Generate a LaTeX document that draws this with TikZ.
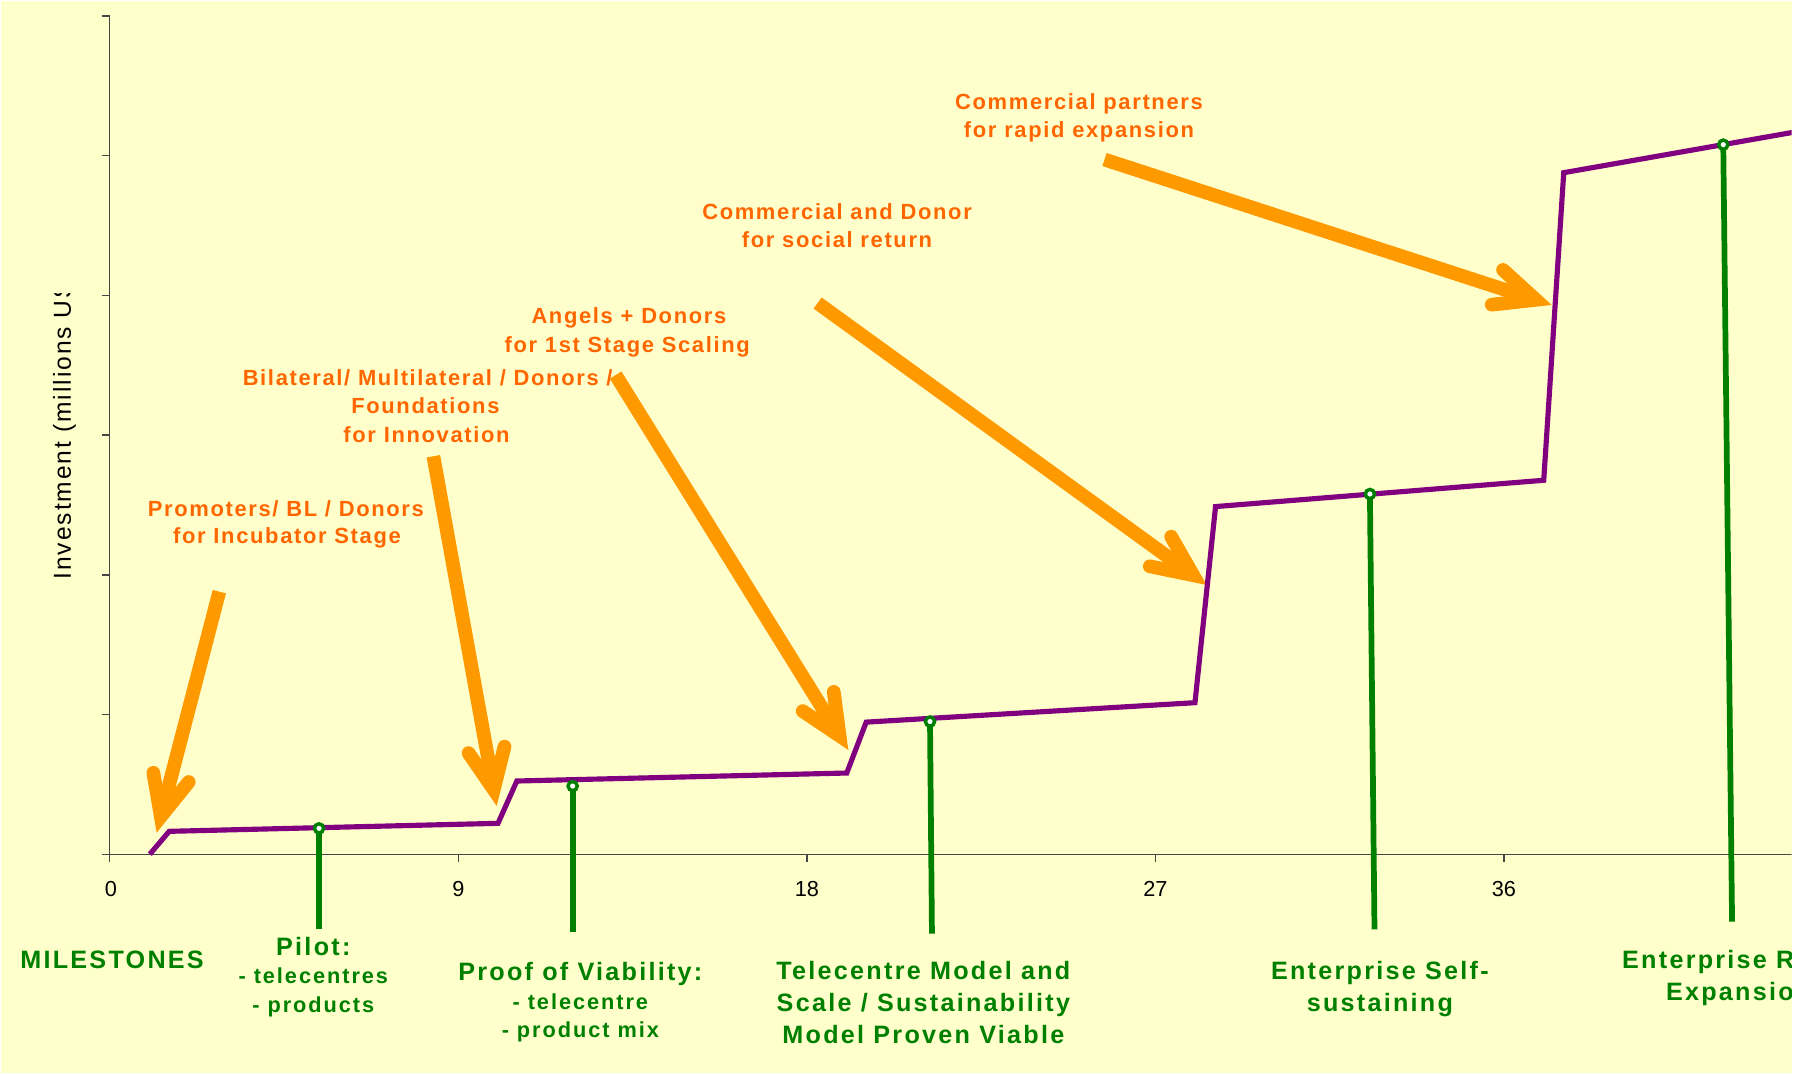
\documentclass[tikz,border=0pt]{standalone}
\usepackage{fontspec}
\setmainfont{Liberation Sans}
\newfontfamily\orfont[LetterSpace=7.5]{Liberation Sans}
\newfontfamily\grfont[LetterSpace=9]{Liberation Sans}
\newfontfamily\ylfont[LetterSpace=8]{Liberation Sans}
\usetikzlibrary{calc}
\definecolor{bgyellow}{RGB}{255,255,204}
\definecolor{arroworange}{RGB}{255,153,0}
\definecolor{textorange}{RGB}{255,102,0}
\definecolor{curvepurple}{RGB}{128,0,128}
\definecolor{milegreen}{RGB}{0,128,0}
\definecolor{axisgray}{RGB}{70,70,70}
\newcommand\orarrow[2]{%
  \draw[orshaft] (#1) -- ($(#2)!24pt!(#1)$);
  \coordinate (#2J) at ($(#2)!14.6pt!(#1)$);
  \draw[orhead] ($(#2J)!38.8pt!24.3:(#1)$) -- (#2J) -- ($(#2J)!38.8pt!-24.3:(#1)$);
}
\begin{document}
\begin{tikzpicture}[x=1pt,y=-1pt,
  axisline/.style={draw=axisgray, line width=1.2pt},
  curveline/.style={draw=curvepurple, line width=4.5pt, line join=miter},
  mileline/.style={draw=milegreen, line width=5pt},
  milemark/.style={draw=milegreen, line width=3pt, fill=white},
  orshaft/.style={draw=arroworange, line width=12pt, line cap=butt},
  orhead/.style={draw=arroworange, line width=12pt, line cap=round, line join=miter},
  ortext/.style={text=textorange, font=\orfont\bfseries\fontsize{19.2}{22}\selectfont, anchor=base, inner sep=0pt},
  grbig/.style={text=milegreen, font=\grfont\bfseries\fontsize{22}{25}\selectfont, anchor=base, inner sep=0pt},
  grsmall/.style={text=milegreen, font=\grfont\bfseries\fontsize{19}{22}\selectfont, anchor=base, inner sep=0pt},
  ticklabel/.style={font=\fontsize{19}{22}\selectfont, anchor=base, inner sep=0pt},
  ylabel/.style={font=\ylfont\fontsize{21.5}{24}\selectfont, inner sep=0pt},
]
\useasboundingbox (0,0) rectangle (1568,940);
\fill[white] (0,0) rectangle (1568,940);
\fill[bgyellow] (1.3,1.3) rectangle (1566.7,938.7);

\begin{scope}
\clip (0,0) rectangle (1566.7,940);

% axes
\draw[axisline] (96,14) -- (96,754);
\draw[axisline] (89,747) -- (1568,747);
\foreach \yy in {14,136.2,258.3,380.5,502.7,624.8} \draw[axisline] (89,\yy) -- (96,\yy);
\foreach \xx in {400.8,705.6,1010.4,1315.2} \draw[axisline] (\xx,747) -- (\xx,754);

\node[ticklabel] (t0) at (97,784) {0};
\node[ticklabel] (t9) at (400.8,784) {9};
\node[ticklabel] (t18) at (705.6,784) {18};
\node[ticklabel] (t27) at (1010.4,784) {27};
\node[ticklabel] (t36) at (1315.2,784) {36};

\begin{scope}
\clip (0,257) rectangle (96,940);
\node[ylabel, rotate=90, anchor=base west] (ylab) at (62,507) {Investment (millions US\$)};
\end{scope}

% arrows
\coordinate (a1) at (191.8,517.4); \coordinate (t1) at (137,728.2);
\coordinate (a2) at (379,399);     \coordinate (t2) at (434.4,704.9);
\coordinate (a3) at (538.4,328);   \coordinate (t3) at (741.9,655.9);
\coordinate (a4) at (715,265);     \coordinate (t4) at (1055.3,511.6);
\coordinate (a5) at (965.9,139.5); \coordinate (t5) at (1357,266.7);
\orarrow{a1}{t1}
\orarrow{a2}{t2}
\orarrow{a3}{t3}
\orarrow{a4}{t4}
\orarrow{a5}{t5}

% investment curve
\draw[curveline] (131,747) -- (148,727) -- (435.5,720) -- (452,683) -- (740.5,676) -- (757.5,631.5)
  -- (1045,614.5) -- (1063,443) -- (1350,420) -- (1367.5,151) -- (1575,114.5);

% milestones
\coordinate (m1t) at (279,724.4);   \coordinate (m1b) at (279,812.7);
\coordinate (m2t) at (500.8,687.4); \coordinate (m2b) at (500.8,814.8);
\coordinate (m3t) at (813.3,631);   \coordinate (m3b) at (815,816.5);
\coordinate (m4t) at (1198,432);    \coordinate (m4b) at (1202,812.7);
\coordinate (m5t) at (1507,126.5);  \coordinate (m5b) at (1514.7,806);
\foreach \m in {m1,m2,m3,m4,m5} {
  \draw[mileline] (\m t) -- (\m b);
  \draw[milemark] (\m t) circle[radius=4pt];
}

% orange labels
\node[ortext] (cp1) at (943.6,95.6) {Commercial partners};
\node[ortext] (cp2) at (943.6,120.1) {for rapid expansion};
\node[ortext] (cd1) at (732,192) {Commercial and Donor};
\node[ortext] (cd2) at (732,216.5) {for social return};
\node[ortext] (an1) at (550,283.3) {Angels + Donors};
\node[ortext] (an2) at (548.5,308.4) {for 1st Stage Scaling};
\node[ortext] (bi1) at (374,337) {Bilateral/ Multilateral / Donors /};
\node[ortext] (bi2) at (372,362) {Foundations};
\node[ortext] (bi3) at (373,387) {for Innovation};
\node[ortext] (pr1) at (250,451.3) {Promoters/ BL / Donors};
\node[ortext] (pr2) at (251,475.5) {for Incubator Stage};

% green labels
\node[grbig] (ms) at (98,846.8) {MILESTONES};
\node[grbig] (pi1) at (274,835.2) {Pilot:};
\node[grsmall] (pi2) at (274,860.5) {- telecentres};
\node[grsmall] (pi3) at (274,885.6) {- products};
\node[grbig] (pv1) at (507.5,857.6) {Proof of Viability:};
\node[grsmall] (pv2) at (507.5,882.7) {- telecentre};
\node[grsmall] (pv3) at (507.5,907.5) {- product mix};
\node[grbig] (tm1) at (807.5,856.2) {Telecentre Model and};
\node[grbig] (tm2) at (807.5,884.2) {Scale / Sustainability};
\node[grbig] (tm3) at (807.5,912.4) {Model Proven Viable};
\node[grbig] (es1) at (1206.7,856.2) {Enterprise Self-};
\node[grbig] (es2) at (1206.7,884.2) {sustaining};
\node[grbig] (er1) at (1520.5,846.8) {Enterprise Rapid};
\node[grbig] (er2) at (1520.5,875.1) {Expansion};
\end{scope}
\end{tikzpicture}
\end{document}
